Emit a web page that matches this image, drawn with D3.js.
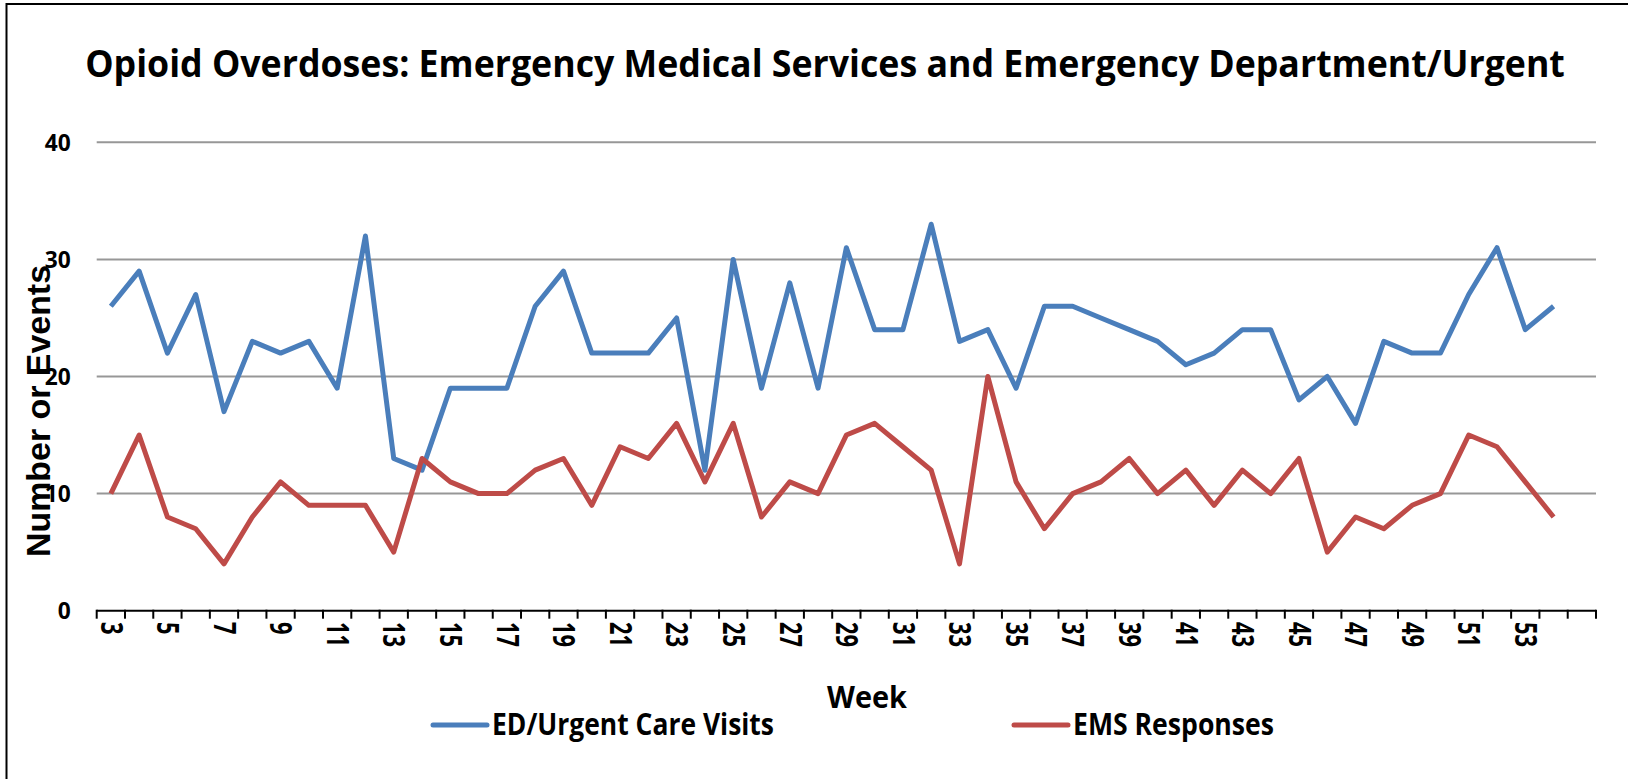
<!DOCTYPE html>
<html>
<head>
<meta charset="utf-8">
<script src="https://cdn.jsdelivr.net/npm/d3@7"></script>
<style>
  html, body { margin: 0; padding: 0; background: #fff; }
  svg { display: block; }
  text { font-family: "Liberation Sans Narrow", "Open Sans", "Noto Sans", sans-serif; font-weight: bold; fill: #000; }
</style>
</head>
<body>
<svg id="chart"></svg>
<script>
var width = 1628, height = 779

// week categories (last slot is an unlabeled empty week)
var weeks = ["3", "4", "5", "6", "7", "8", "9", "10", "11", "12", "13", "14", "15", "16", "17", "18",
    "19", "20", "21", "22", "23", "24", "25", "26", "27", "28", "29", "30", "31", "32", "33", "34",
    "35", "36", "37", "38", "39", "40", "41", "42", "43", "44", "45", "46", "47", "48", "49", "50",
    "51", "52", "53", "54", ""]

var edVisits = [26, 29, 22, 27, 17, 23, 22, 23, 19, 32, 13, 12, 19, 19, 19, 26,
    29, 22, 22, 22, 25, 12, 30, 19, 28, 19, 31, 24, 24, 33, 23, 24,
    19, 26, 26, 25, 24, 23, 21, 22, 24, 24, 18, 20, 16, 23, 22, 22,
    27, 31, 24, 26]

var emsResponses = [10, 15, 8, 7, 4, 8, 11, 9, 9, 9, 5, 13, 11, 10, 10, 12,
    13, 9, 14, 13, 16, 11, 16, 8, 11, 10, 15, 16, 14, 12, 4, 20,
    11, 7, 10, 11, 13, 10, 12, 9, 12, 10, 13, 5, 8, 7, 9, 10,
    15, 14, 11, 8]

var yTicks = [0, 10, 20, 30, 40]

var series = [
    { name: "ED/Urgent Care Visits", values: edVisits, color: "#4a7ebb" },
    { name: "EMS Responses", values: emsResponses, color: "#be4b48" }
]

var svg = d3.select("#chart")
    .attr("width", width)
    .attr("height", height)

// squeeze a text node to a target width (stand-in for the narrow original font)
function fit(sel, w) {
    sel.each(function() {
        var n = this.getComputedTextLength()
        if (n > 0) d3.select(this).attr("textLength", w).attr("lengthAdjust", "spacingAndGlyphs")
    })
}

// chart border
svg.append("rect")
    .attr("x", 6.5).attr("y", 4)
    .attr("width", width + 20).attr("height", height + 20)
    .attr("fill", "none")
    .attr("stroke", "#000")
    .attr("stroke-width", 2)

var x = d3.scaleBand()
    .domain(weeks)
    .range([96.7, 1596])
    .padding(0)

var y = d3.scaleLinear()
    .domain([0, 40])
    .range([610.7, 142.3])

// title, squeezed horizontally with a transform so its box stays inside the page
var title = svg.append("text")
    .attr("text-anchor", "middle")
    .style("font-size", "38px")
    .text("Opioid Overdoses: Emergency Medical Services and Emergency Department/Urgent")
var tw = title.node().getComputedTextLength()
title.attr("transform", "translate(825,77) scale(" + (1480 / tw) + ",1)")

// gridlines
svg.append("g")
    .selectAll("line")
    .data(yTicks.filter(function(d) { return d > 0 }))
    .enter().append("line")
    .attr("x1", x.range()[0]).attr("x2", x.range()[1])
    .attr("y1", function(d) { return y(d) })
    .attr("y2", function(d) { return y(d) })
    .attr("stroke", "#979797")
    .attr("stroke-width", 2)

// y axis labels
var yAxis = svg.append("g")
    .attr("transform", "translate(" + x.range()[0] + ",0)")
    .call(d3.axisLeft(y).tickValues(yTicks).tickSize(0).tickPadding(26))
yAxis.select(".domain").remove()
yAxis.selectAll("text")
    .style("font-family", "\"Liberation Sans Narrow\", \"Open Sans\", sans-serif")
    .style("font-weight", "bold")
    .style("font-size", "23px")
    .attr("fill", "#000")
    .attr("dy", "0.34em")
    .each(function(d) { fit(d3.select(this), 13 * String(d).length) })

// x axis
var xg = svg.append("g")
xg.append("line")
    .attr("x1", x.range()[0]).attr("x2", x.range()[1])
    .attr("y1", y(0)).attr("y2", y(0))
    .attr("stroke", "#000")
    .attr("stroke-width", 2)

var bounds = weeks.map(function(d) { return x(d) }).concat([x.range()[1]])
xg.selectAll(".tick-mark")
    .data(bounds)
    .enter().append("line")
    .attr("class", "tick-mark")
    .attr("x1", function(d) { return d }).attr("x2", function(d) { return d })
    .attr("y1", y(0) - 1).attr("y2", y(0) + 8)
    .attr("stroke", "#000")
    .attr("stroke-width", 2)

xg.selectAll(".xlabel")
    .data(weeks.filter(function(d, i) { return i % 2 === 0 && d !== "" }))
    .enter().append("text")
    .attr("class", "xlabel")
    .attr("transform", function(d) {
        return "translate(" + (x(d) + x.bandwidth() / 2) + "," + 622 + ") rotate(90)"
    })
    .attr("dy", "0.33em")
    .style("font-size", "31px")
    .text(function(d) { return d })
    .each(function(d) { fit(d3.select(this), 12.5 * d.length) })

// axis titles
svg.append("text")
    .attr("transform", "translate(50,411) rotate(-90)")
    .attr("text-anchor", "middle")
    .style("font-family", "\"Liberation Sans\", Arial, sans-serif")
    .style("font-size", "34px")
    .text("Number or Events")
    .call(fit, 292)

svg.append("text")
    .attr("x", 867).attr("y", 708)
    .attr("text-anchor", "middle")
    .style("font-size", "31px")
    .text("Week")
    .call(fit, 80)

// lines
var line = d3.line()
    .x(function(d, i) { return x(weeks[i]) + x.bandwidth() / 2 })
    .y(function(d) { return y(d) })

svg.append("g")
    .selectAll("path")
    .data(series)
    .enter().append("path")
    .attr("d", function(d) { return line(d.values) })
    .attr("fill", "none")
    .attr("stroke", function(d) { return d.color })
    .attr("stroke-width", 5)
    .attr("stroke-linejoin", "round")

// legend
var legendPos = [{ x: 433, w: 282 }, { x: 1014, w: 201 }]
var legend = svg.append("g")
    .selectAll("g")
    .data(series)
    .enter().append("g")
    .attr("transform", function(d, i) { return "translate(" + legendPos[i].x + ",725)" })
legend.append("line")
    .attr("x1", 0).attr("x2", 54)
    .attr("y1", 0).attr("y2", 0)
    .attr("stroke", function(d) { return d.color })
    .attr("stroke-width", 5)
    .attr("stroke-linecap", "round")
legend.append("text")
    .attr("x", 59).attr("y", 10)
    .style("font-size", "31px")
    .text(function(d) { return d.name })
    .each(function(d, i) { fit(d3.select(this), legendPos[i].w) })
</script>
</body>
</html>
